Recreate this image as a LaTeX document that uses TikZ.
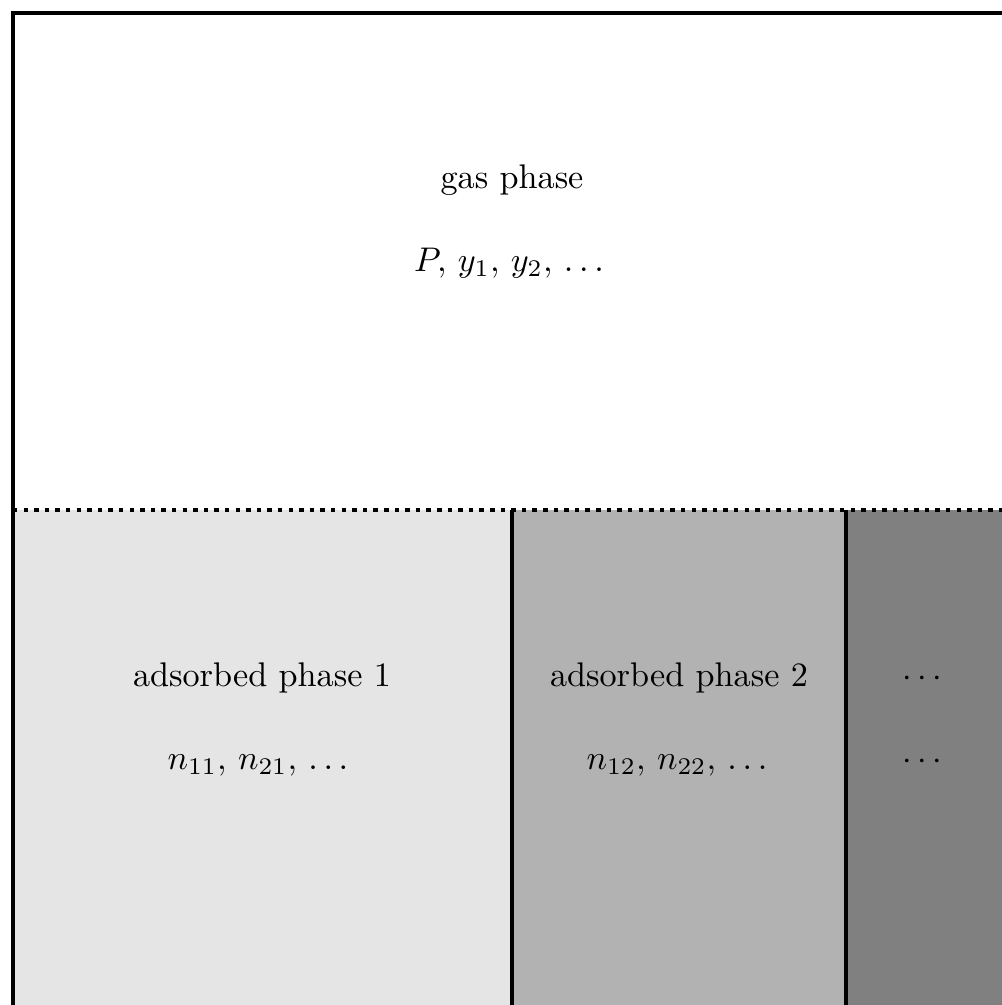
\documentclass[tikz,border=0pt]{standalone}
\usepackage{amsmath}
\begin{document}
\begin{tikzpicture}[x=0.2924pt,y=-0.2924pt,
  lbl/.style={inner sep=0pt, anchor=base},
  wall/.style={line width=1.4pt},
  iface/.style={line width=1.3pt, dash pattern=on 1.3pt off 1.8pt}]
\useasboundingbox (0,0) rectangle (1002,1005);
\fill[white] (0,0) rectangle (1002,1005);
\fill[black!10] (13,510) rectangle (512,1005);
\fill[black!30] (512,510) rectangle (846,1005);
\fill[black!50] (846,510) rectangle (1002,1005);
% coordinates
\coordinate (tl) at (13,13);
\coordinate (tr) at (1003,13);
\coordinate (bl) at (13,1006);
\coordinate (il) at (13,510);
\coordinate (ir) at (1003,510);
\coordinate (v1t) at (512,510);
\coordinate (v1b) at (512,1006);
\coordinate (v2t) at (846,510);
\coordinate (v2b) at (846,1006);
\draw[wall] (bl) -- (tl) -- (tr);
\draw[iface] (il) -- (ir);
\draw[wall] (v1t) -- (v1b);
\draw[wall] (v2t) -- (v2b);
% texts
\node[lbl] (gas) at (512,188) {gas phase};
\node[lbl] (gasv) at (509,271) {$P,\, y_1,\, y_2,\, \ldots$};
\node[lbl] (ad1) at (262,686) {adsorbed phase 1};
\node[lbl] (ad1v) at (258,769) {$n_{11},\, n_{21},\, \ldots$};
\node[lbl] (ad2) at (679,686) {adsorbed phase 2};
\node[lbl] (ad2v) at (677,769) {$n_{12},\, n_{22},\, \ldots$};
\node[lbl] (ad3) at (925,686) {$\cdots$};
\node[lbl] (ad3v) at (925,769) {$\cdots$};
\end{tikzpicture}
\end{document}
